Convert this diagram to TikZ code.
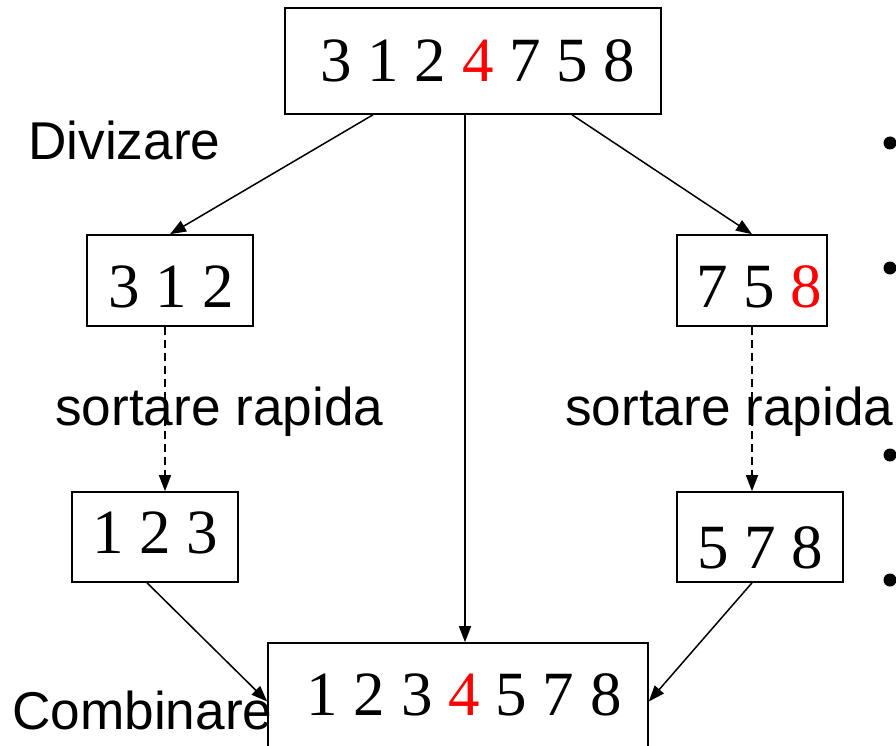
\documentclass[tikz,border=0pt]{standalone}
\usepackage{fontspec}
\setmainfont{Liberation Serif}
\newfontfamily\arialf{Liberation Sans}
\usetikzlibrary{arrows.meta}
\newcommand\dgt[3]{\hspace*{#2pt}\smash{\raisebox{-#1pt}{#3}}}
\begin{document}
\begin{tikzpicture}[x=1pt,y=-1pt,
 box/.style={draw, line width=1.6pt, inner sep=0pt, font=\fontsize{63}{70}\selectfont},
 lbl/.style={anchor=base west, inner sep=0pt, font=\arialf\fontsize{53.2}{60}\selectfont},
 arr/.style={line width=1.5pt, -{Triangle[length=16pt,width=12pt]}},
 darr/.style={arr, dash pattern=on 8pt off 5pt},
 dot/.style={circle, fill=black, inner sep=0pt, minimum size=13pt}]
\useasboundingbox (0,0) rectangle (896,746);
\fill[white] (0,0) rectangle (896,746);
% boxes
\node[box, minimum width=376pt, minimum height=106pt] (top) at (473,61) {\dgt{21}{10}{3 1 2 \textcolor{red}{4} 7 5 8}};
\node[box, minimum width=166pt, minimum height=91pt] (m1) at (170,280.5) {\dgt{26.5}{2}{3 1 2}};
\node[box, minimum width=150pt, minimum height=91pt] (r1) at (752,280.5) {\dgt{26.5}{14}{7 5 \textcolor{red}{8}}};
\node[box, minimum width=166pt, minimum height=90pt] (l2) at (155,537) {\dgt{16}{0}{1 2 3}};
\node[box, minimum width=166pt, minimum height=90pt] (r2) at (760,537) {\dgt{31}{0}{5 7 8}};
\node[box, minimum width=380pt, minimum height=117pt] (bot) at (458,701.5) {\dgt{13.5}{12}{1 2 3 \textcolor{red}{4} 5 7 8}};
% labels
\node[lbl] (ldiv) at (28,160) {Divizare};
\node[lbl] (lsl) at (55,425) {sortare rapida};
\node[lbl] (lsr) at (565,425) {sortare rapida};
\node[lbl] (lcomb) at (12,729) {Combinare};
% connectors
\draw[arr] ([xshift=-100pt]top.south) -- (m1.north);
\draw[arr] ([xshift=99pt]top.south) -- (r1.north);
\draw[arr] ([xshift=-8pt]top.south) -- ([xshift=-8pt]top.south |- bot.north);
\draw[darr] ([xshift=-5pt]m1.south) -- ([xshift=-5pt]m1.south |- l2.north);
\draw[darr] (r1.south) -- (r1.south |- r2.north);
\draw[arr] ([xshift=-8pt]l2.south) -- (bot.west);
\draw[arr] ([xshift=-8pt]r2.south) -- (bot.east);
% partial bullets at right edge
\node[dot] (b1) at (890,143) {};
\node[dot] (b2) at (890,268) {};
\node[dot] (b3) at (890,455) {};
\node[dot] (b4) at (890,580) {};
\end{tikzpicture}
\end{document}
